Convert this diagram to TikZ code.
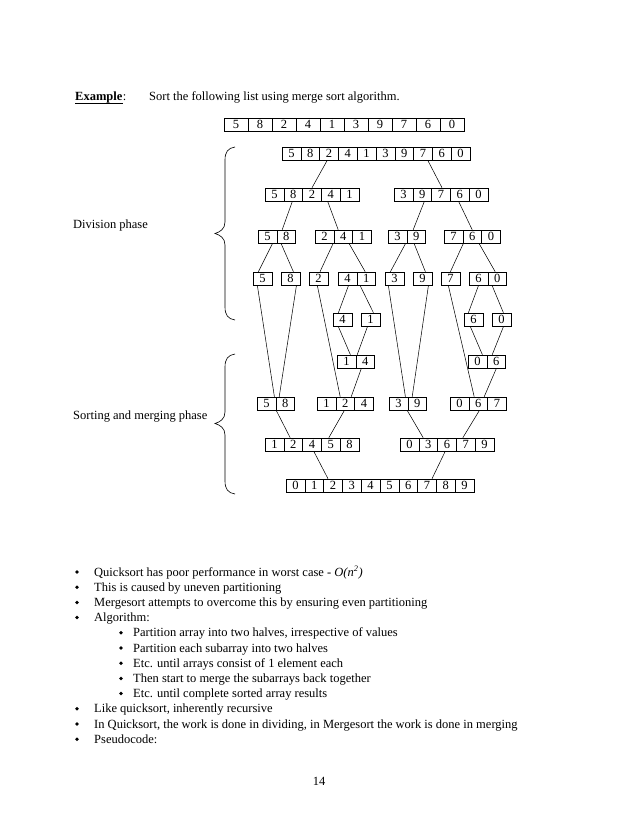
\documentclass[tikz,border=0pt]{standalone}
\usepackage{fontspec}
\setmainfont{Liberation Serif}
\usetikzlibrary{calc}
\newcommand\cellrow[5]{%
  \foreach \d [count=\i] in {#5} {%
    \node[cellbox, minimum width=#4*0.96pt] (#1-\i) at ({#2+#4*(\i-0.5)},{#3+6.75}) {\d};
  }}
\newcommand\lnk[4]{\draw[conn] ($(#1.south)+(#2,0)$) -- ($(#3.north)+(#4,0)$);}
\begin{document}
\begin{tikzpicture}[x=0.96pt,y=-0.96pt,
  cellbox/.style={draw, line width=0.5pt, inner sep=0pt, minimum height=12.96pt, font=\fontsize{12}{14}\selectfont},
  conn/.style={line width=0.5pt},
  txt/.style={anchor=base west, inner sep=0pt, font=\fontsize{12}{14}\selectfont},
  bulletdot/.style={circle, fill, inner sep=0pt, minimum size=3.6pt},
  brace/.style={line width=0.6pt}]
\useasboundingbox (0,0) rectangle (638,826);

% heading
\node[txt] (ex) at (75,101) {\textbf{Example}};
\node[txt] (excolon) at (ex.base east) {:};
\draw[line width=0.7pt] ($(ex.base west)+(0,2)$) -- ($(ex.base east)+(0,2)$);
\node[txt] (sortt) at (149,101) {Sort the following list using merge sort algorithm.};

% original list
\cellrow{t}{224}{118}{24}{5,8,2,4,1,3,9,7,6,0}

% division phase
\cellrow{a}{282}{147}{18.8}{5,8,2,4,1,3,9,7,6,0}
\cellrow{b}{265}{188}{18.8}{5,8,2,4,1}
\cellrow{c}{394}{188}{18.8}{3,9,7,6,0}
\cellrow{d}{258}{230}{18.8}{5,8}
\cellrow{e}{315}{230}{18.8}{2,4,1}
\cellrow{f}{388}{230}{18.8}{3,9}
\cellrow{g}{444}{230}{18.8}{7,6,0}
\cellrow{h}{253}{272}{18.8}{5}
\cellrow{i}{281}{272}{18.8}{8}
\cellrow{j}{309}{272}{18.8}{2}
\cellrow{k}{338}{272}{18.8}{4,1}
\cellrow{l}{385}{272}{18.8}{3}
\cellrow{m}{413}{272}{18.8}{9}
\cellrow{n}{441}{272}{18.8}{7}
\cellrow{o}{469}{272}{18.8}{6,0}
\cellrow{p}{333}{313}{18.8}{4}
\cellrow{q}{361}{313}{18.8}{1}
\cellrow{r}{464}{313}{18.8}{6}
\cellrow{s}{492}{313}{18.8}{0}
% merging phase
\cellrow{u}{337}{355}{18.8}{1,4}
\cellrow{v}{468}{355}{18.8}{0,6}
\cellrow{w}{257}{397}{18.8}{5,8}
\cellrow{x}{317}{397}{18.8}{1,2,4}
\cellrow{y}{389}{397}{18.8}{3,9}
\cellrow{z}{450}{397}{18.8}{0,6,7}
\cellrow{aa}{265}{438}{18.8}{1,2,4,5,8}
\cellrow{bb}{400}{438}{18.8}{0,3,6,7,9}
\cellrow{cc}{286}{479}{18.8}{0,1,2,3,4,5,6,7,8,9}

% connectors
\lnk{a-3}{-2}{b-3}{0}
\lnk{a-8}{5}{c-3}{1}
\lnk{b-2}{-1}{d-2}{-4}
\lnk{b-4}{-3}{e-2}{-5}
\lnk{c-2}{2}{f-2}{-3}
\lnk{c-4}{-1}{g-2}{0}
\lnk{d-1}{5}{h-1}{-4}
\lnk{d-2}{-5}{i-1}{3}
\lnk{e-1}{8.6}{j-1}{1.6}
\lnk{e-2}{6}{k-2}{-1}
\lnk{f-1}{8}{l-1}{-4}
\lnk{f-2}{-2}{m-1}{3}
\lnk{g-2}{-9}{n-1}{0}
\lnk{g-2}{7}{o-2}{-2}
\lnk{k-1}{1}{p-1}{-4}
\lnk{k-2}{-6}{q-1}{3}
\lnk{o-1}{0}{r-1}{-5}
\lnk{o-2}{-5}{s-1}{2}
\lnk{p-1}{-4}{u-1}{4}
\lnk{q-1}{-3}{u-2}{-8}
\lnk{r-1}{-3}{v-1}{5}
\lnk{s-1}{2}{v-2}{-4}
\lnk{h-1}{-5}{w-1}{8}
\lnk{i-1}{6}{w-2}{-6}
\lnk{j-1}{-1}{x-2}{-5}
\lnk{u-2}{-4}{x-2}{6}
\lnk{l-1}{-6}{y-1}{7}
\lnk{m-1}{6}{y-2}{-5}
\lnk{n-1}{-2}{z-2}{-4}
\lnk{v-2}{0}{z-2}{6}
\lnk{w-1}{10}{aa-2}{-3}
\lnk{x-2}{-1}{aa-4}{-2}
\lnk{y-1}{9}{bb-2}{-5}
\lnk{z-2}{1}{bb-4}{-3}
\lnk{aa-3}{2}{cc-3}{-5}
\lnk{bb-3}{-2}{cc-8}{5}

% braces
\draw[brace] (235,147) .. controls (228,148) and (225,152) .. (225,160) -- (225,222)
  .. controls (225,229) and (220,232) .. (215,233.5) .. controls (220,235) and (225,238) .. (225,245)
  -- (225,307) .. controls (225,315) and (228,319) .. (235,320);
\draw[brace] (235,354) .. controls (228,355) and (225,359) .. (225,367) -- (225,412)
  .. controls (225,419) and (220,422) .. (215,423.5) .. controls (220,425) and (225,428) .. (225,435)
  -- (225,481) .. controls (225,489) and (228,493) .. (235,494);

\node[txt] (divp) at (73,228) {Division phase};
\node[txt] (mergp) at (73,419) {Sorting and merging phase};

% bullet list
\foreach \yy/\xb/\xt/\tx [count=\k] in {
  576/77/94/{Quicksort has poor performance in worst case - \textit{O(n\textsuperscript{2})}},
  591.2/77/94/{This is caused by uneven partitioning},
  606.4/77/94/{Mergesort attempts to overcome this by ensuring even partitioning},
  621.6/77/94/{Algorithm:},
  636.8/121/133/{Partition array into two halves, irrespective of values},
  652/121/133/{Partition each subarray into two halves},
  667.2/121/133/{Etc. until arrays consist of 1 element each},
  682.4/121/133/{Then start to merge the subarrays back together},
  697.6/121/133/{Etc. until complete sorted array results},
  712.8/77/94/{Like quicksort, inherently recursive},
  728/77/94/{In Quicksort, the work is done in dividing, in Mergesort the work is done in merging},
  743.2/77/94/{Pseudocode:}} {
  \node[bulletdot] (bul\k) at (\xb,\yy-4) {};
  \node[txt] (item\k) at (\xt,\yy) {\tx};
}

\node[anchor=base, inner sep=0pt, font=\fontsize{12}{14}\selectfont] (pnum) at (319,785) {14};
\end{tikzpicture}
\end{document}
